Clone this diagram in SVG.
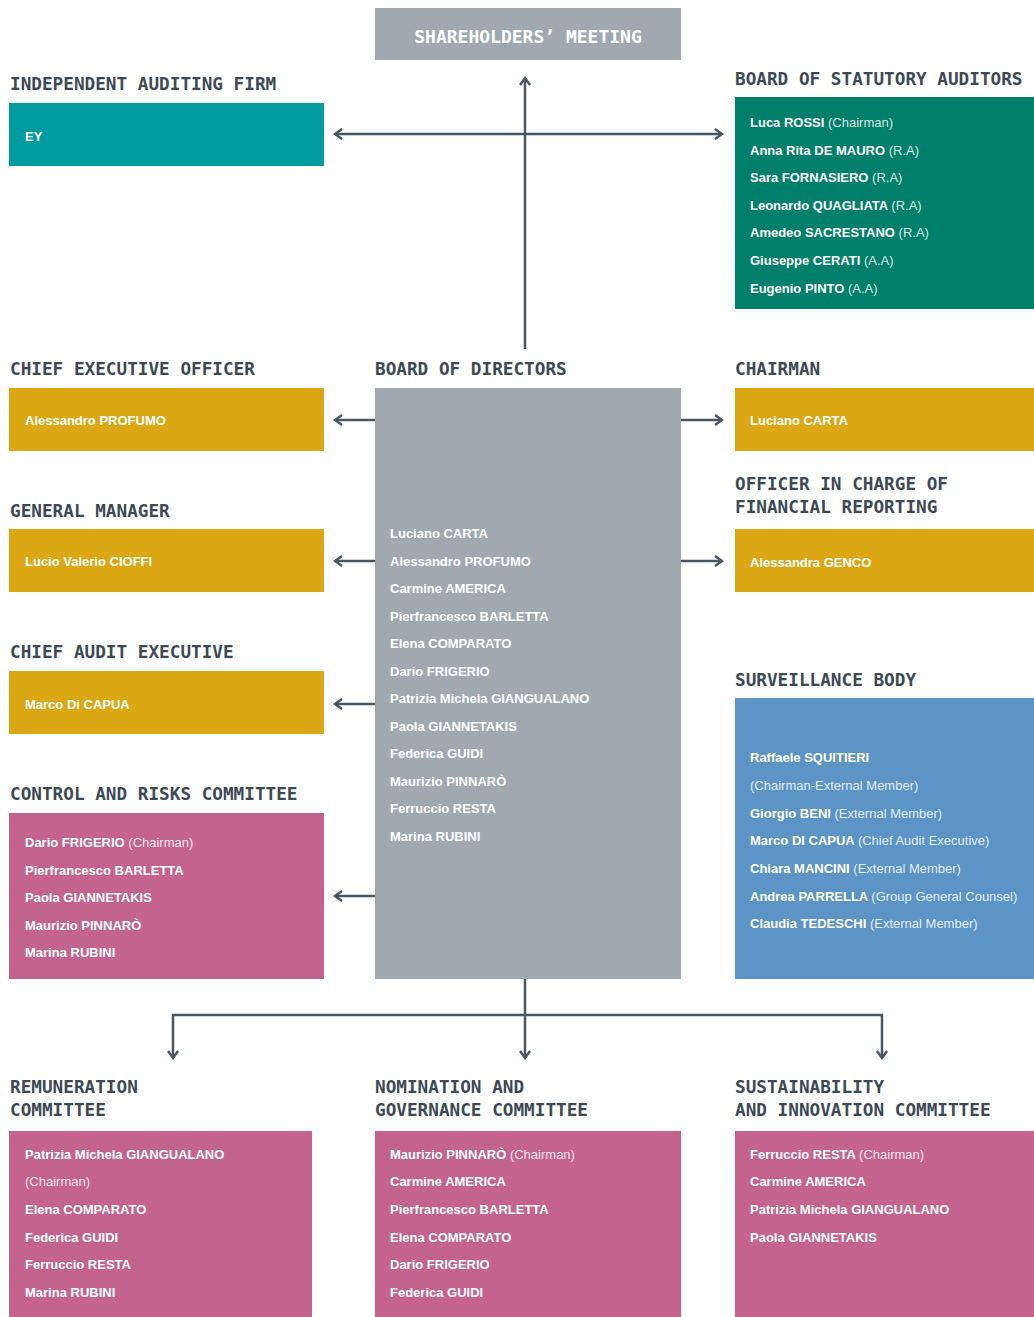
<svg xmlns="http://www.w3.org/2000/svg" width="1034" height="1317" viewBox="0 0 1034 1317">
<defs>
<style>
.h{font-family:"DejaVu Sans Mono","Liberation Mono",monospace;font-weight:bold;font-size:17.7px;fill:#3e4953}
.t{font-family:"Liberation Sans",Arial,sans-serif;font-weight:bold;font-size:13px;fill:#ffffff}
.r{font-weight:normal;fill-opacity:0.85}
.c{stroke:#4a5661;stroke-width:2.5;fill:none}
.gray{fill:#a0a9b0}.teal{fill:#009ca1}.green{fill:#00806a}.gold{fill:#dba714}.blue{fill:#5c94c5}.pink{fill:#c3638e}
</style>
<marker id="ah" viewBox="0 0 12 12" refX="10" refY="6" markerWidth="12" markerHeight="12" markerUnits="userSpaceOnUse" orient="auto-start-reverse">
<path d="M3,1 L10,6 L3,11" fill="none" stroke="#4a5661" stroke-width="2.5"/>
</marker>
</defs>
<rect width="1034" height="1317" fill="#ffffff"/>

<g id="connectors" class="c">
<line x1="335" y1="134" x2="722" y2="134" marker-start="url(#ah)" marker-end="url(#ah)"/>
<line x1="525" y1="349" x2="525" y2="78" marker-end="url(#ah)"/>
<line x1="375" y1="420" x2="335" y2="420" marker-end="url(#ah)"/>
<line x1="681" y1="420" x2="722" y2="420" marker-end="url(#ah)"/>
<line x1="375" y1="561" x2="335" y2="561" marker-end="url(#ah)"/>
<line x1="681" y1="561" x2="722" y2="561" marker-end="url(#ah)"/>
<line x1="375" y1="704" x2="335" y2="704" marker-end="url(#ah)"/>
<line x1="375" y1="896" x2="335" y2="896" marker-end="url(#ah)"/>
<line x1="525" y1="979" x2="525" y2="1058" marker-end="url(#ah)"/>
<polyline points="173,1058 173,1015 882,1015 882,1058" marker-start="url(#ah)" marker-end="url(#ah)"/>
</g>

<g id="shareholders">
<rect class="gray" x="375" y="8" width="306" height="52"/>
<text x="528" y="43" text-anchor="middle" class="h" style="fill:#ffffff;font-size:18px">SHAREHOLDERS’ MEETING</text>
</g>

<g id="auditing-firm">
<text x="10" y="90" class="h">INDEPENDENT AUDITING FIRM</text>
<rect class="teal" x="9" y="103" width="315" height="63"/>
<text x="25" y="141" class="t">EY</text>
</g>

<g id="statutory-auditors">
<text x="735" y="85" class="h">BOARD OF STATUTORY AUDITORS</text>
<rect class="green" x="735" y="97" width="299" height="212"/>
<text class="t" x="750" y="127">Luca ROSSI <tspan class="r">(Chairman)</tspan></text>
<text class="t" x="750" y="155">Anna Rita DE MAURO <tspan class="r">(R.A)</tspan></text>
<text class="t" x="750" y="182">Sara FORNASIERO <tspan class="r">(R.A)</tspan></text>
<text class="t" x="750" y="210">Leonardo QUAGLIATA <tspan class="r">(R.A)</tspan></text>
<text class="t" x="750" y="237">Amedeo SACRESTANO <tspan class="r">(R.A)</tspan></text>
<text class="t" x="750" y="265">Giuseppe CERATI <tspan class="r"> (A.A)</tspan></text>
<text class="t" x="750" y="293">Eugenio PINTO <tspan class="r"> (A.A)</tspan></text>
</g>

<g id="ceo">
<text x="10" y="375" class="h">CHIEF EXECUTIVE OFFICER</text>
<rect class="gold" x="9" y="388" width="315" height="63"/>
<text class="t" x="25" y="425">Alessandro PROFUMO</text>
</g>

<g id="board-of-directors">
<text x="375" y="375" class="h">BOARD OF DIRECTORS</text>
<rect class="gray" x="375" y="388" width="306" height="591"/>
<text class="t" x="390" y="538">Luciano CARTA</text>
<text class="t" x="390" y="566">Alessandro PROFUMO</text>
<text class="t" x="390" y="593">Carmine AMERICA</text>
<text class="t" x="390" y="621">Pierfrancesco BARLETTA</text>
<text class="t" x="390" y="648">Elena COMPARATO</text>
<text class="t" x="390" y="676">Dario FRIGERIO</text>
<text class="t" x="390" y="703">Patrizia Michela GIANGUALANO</text>
<text class="t" x="390" y="731">Paola GIANNETAKIS</text>
<text class="t" x="390" y="758">Federica GUIDI</text>
<text class="t" x="390" y="786">Maurizio PINNARÒ</text>
<text class="t" x="390" y="813">Ferruccio RESTA</text>
<text class="t" x="390" y="841">Marina RUBINI</text>
</g>

<g id="chairman">
<text x="735" y="375" class="h">CHAIRMAN</text>
<rect class="gold" x="735" y="388" width="299" height="63"/>
<text class="t" x="750" y="425">Luciano CARTA</text>
</g>

<g id="general-manager">
<text x="10" y="517" class="h">GENERAL MANAGER</text>
<rect class="gold" x="9" y="529" width="315" height="63"/>
<text class="t" x="25" y="566">Lucio Valerio CIOFFI</text>
</g>

<g id="financial-reporting">
<text x="735" y="490" class="h">OFFICER IN CHARGE OF</text>
<text x="735" y="513" class="h">FINANCIAL REPORTING</text>
<rect class="gold" x="735" y="529" width="299" height="63"/>
<text class="t" x="750" y="567">Alessandra GENCO</text>
</g>

<g id="chief-audit">
<text x="10" y="658" class="h">CHIEF AUDIT EXECUTIVE</text>
<rect class="gold" x="9" y="671" width="315" height="63"/>
<text class="t" x="25" y="709">Marco Di CAPUA</text>
</g>

<g id="surveillance">
<text x="735" y="686" class="h">SURVEILLANCE BODY</text>
<rect class="blue" x="735" y="698" width="299" height="281"/>
<text class="t" x="750" y="762">Raffaele SQUITIERI</text>
<text class="t r" x="750" y="790">(Chairman-External Member)</text>
<text class="t" x="750" y="818">Giorgio BENI <tspan class="r">(External Member)</tspan></text>
<text class="t" x="750" y="845">Marco DI CAPUA <tspan class="r">(Chief Audit Executive)</tspan></text>
<text class="t" x="750" y="873">Chiara MANCINI <tspan class="r">(External Member)</tspan></text>
<text class="t" x="750" y="901">Andrea PARRELLA <tspan class="r">(Group General Counsel)</tspan></text>
<text class="t" x="750" y="928">Claudia TEDESCHI <tspan class="r">(External Member)</tspan></text>
</g>

<g id="control-risks">
<text x="10" y="800" class="h">CONTROL AND RISKS COMMITTEE</text>
<rect class="pink" x="9" y="813" width="315" height="166"/>
<text class="t" x="25" y="847">Dario FRIGERIO <tspan class="r">(Chairman)</tspan></text>
<text class="t" x="25" y="875">Pierfrancesco BARLETTA</text>
<text class="t" x="25" y="902">Paola GIANNETAKIS</text>
<text class="t" x="25" y="930">Maurizio PINNARÒ</text>
<text class="t" x="25" y="957">Marina RUBINI</text>
</g>

<g id="remuneration">
<text x="10" y="1093" class="h">REMUNERATION</text>
<text x="10" y="1116" class="h">COMMITTEE</text>
<rect class="pink" x="9" y="1131" width="303" height="186"/>
<text class="t" x="25" y="1159">Patrizia Michela GIANGUALANO</text>
<text class="t r" x="25" y="1186">(Chairman)</text>
<text class="t" x="25" y="1214">Elena COMPARATO</text>
<text class="t" x="25" y="1242">Federica GUIDI</text>
<text class="t" x="25" y="1269">Ferruccio RESTA</text>
<text class="t" x="25" y="1297">Marina RUBINI</text>
</g>

<g id="nomination">
<text x="375" y="1093" class="h">NOMINATION AND</text>
<text x="375" y="1116" class="h">GOVERNANCE COMMITTEE</text>
<rect class="pink" x="375" y="1131" width="306" height="186"/>
<text class="t" x="390" y="1159">Maurizio PINNARÒ <tspan class="r">(Chairman)</tspan></text>
<text class="t" x="390" y="1186">Carmine AMERICA</text>
<text class="t" x="390" y="1214">Pierfrancesco BARLETTA</text>
<text class="t" x="390" y="1242">Elena COMPARATO</text>
<text class="t" x="390" y="1269">Dario FRIGERIO</text>
<text class="t" x="390" y="1297">Federica GUIDI</text>
</g>

<g id="sustainability">
<text x="735" y="1093" class="h">SUSTAINABILITY</text>
<text x="735" y="1116" class="h">AND INNOVATION COMMITTEE</text>
<rect class="pink" x="735" y="1131" width="299" height="186"/>
<text class="t" x="750" y="1159">Ferruccio RESTA <tspan class="r">(Chairman)</tspan></text>
<text class="t" x="750" y="1186">Carmine AMERICA</text>
<text class="t" x="750" y="1214">Patrizia Michela GIANGUALANO</text>
<text class="t" x="750" y="1242">Paola GIANNETAKIS</text>
</g>
</svg>
